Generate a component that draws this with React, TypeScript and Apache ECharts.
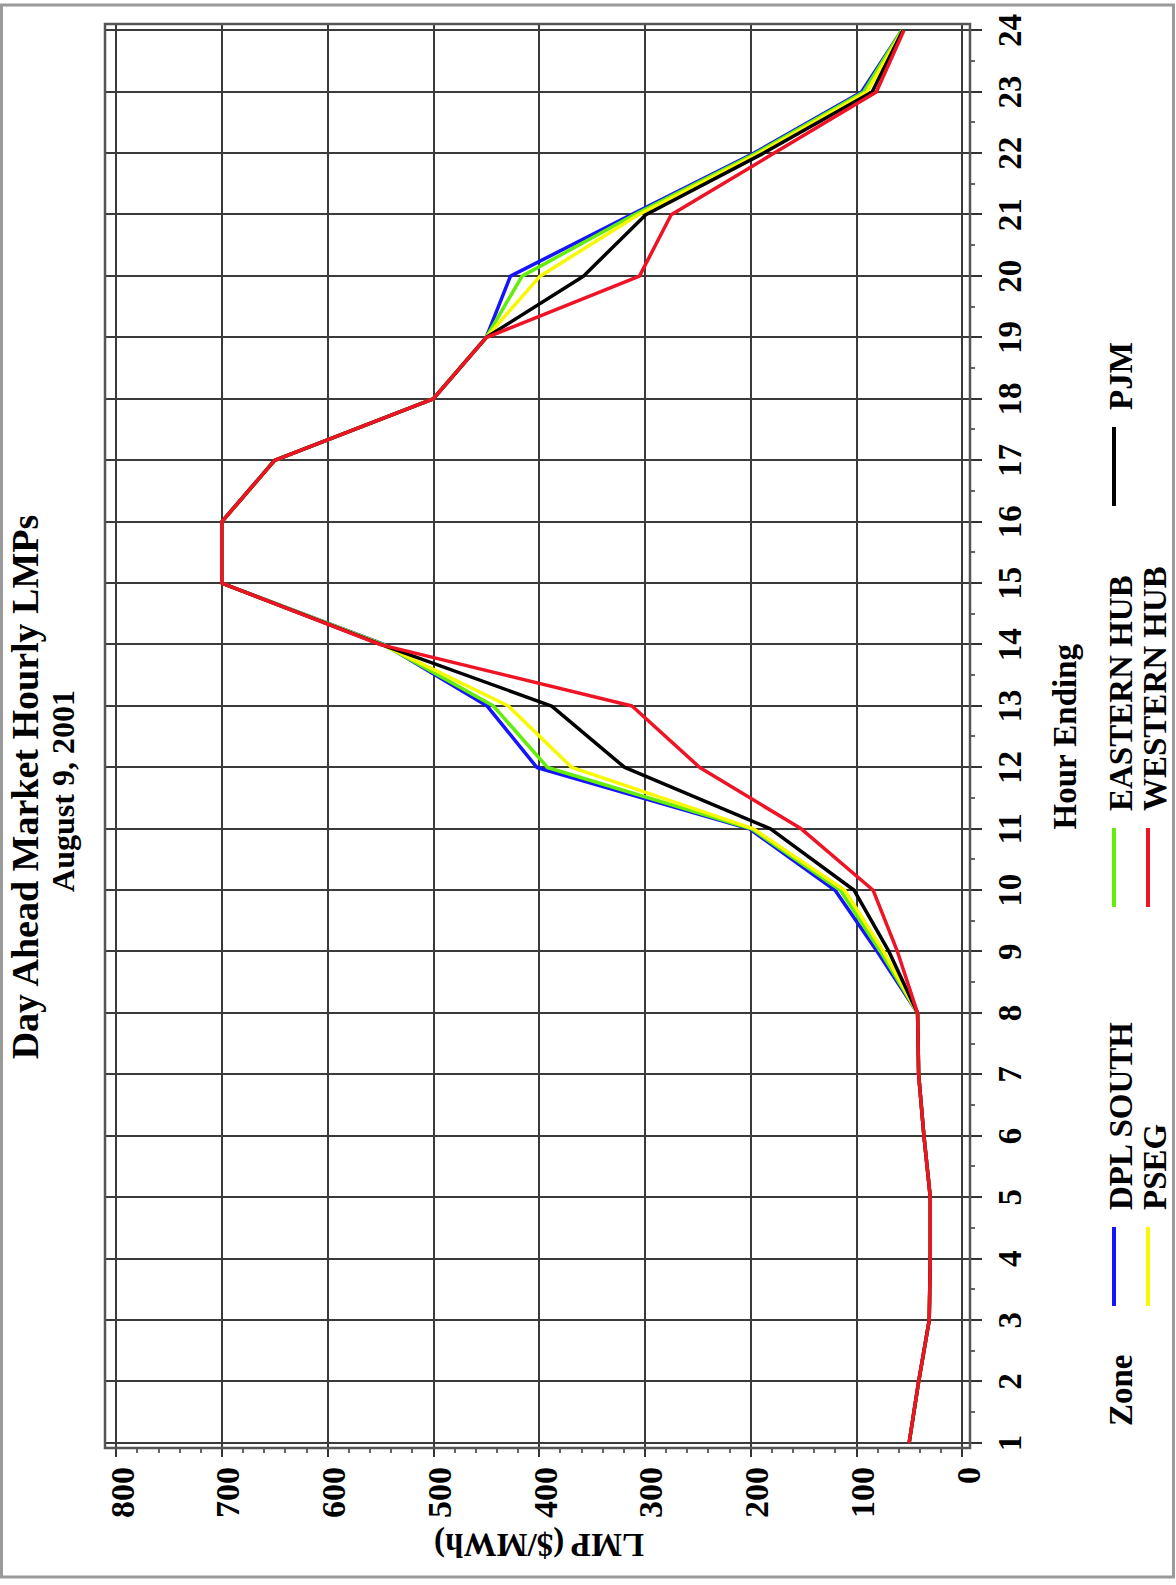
import React, { useEffect, useRef } from "react";
import * as echarts from "echarts";

// ---- data ----
const hours = [1, 2, 3, 4, 5, 6, 7, 8, 9, 10, 11, 12, 13, 14, 15, 16, 17, 18, 19, 20, 21, 22, 23, 24];
const dplSouth = [50, 41, 31, 30, 30, 36, 41, 42, 80, 120, 201, 402, 449, 546, 700, 700, 650, 500, 450, 427, 313, 197, 95, 57];
const easternHub = [50, 41, 31, 30, 30, 36, 41, 42, 77, 115, 199, 392, 443, 547, 700, 700, 650, 500, 450, 416, 310, 195, 93, 57];
const pseg = [50, 41, 31, 30, 30, 36, 41, 42, 74, 111, 197, 369, 429, 548, 700, 700, 650, 500, 450, 399, 306, 192, 90, 56];
const pjm = [50, 41, 31, 30, 30, 36, 41, 42, 69, 102, 181, 319, 388, 549, 700, 700, 650, 500, 450, 358, 299, 188, 85, 56];
const westernHub = [50, 41, 31, 30, 30, 36, 41, 42, 61, 84, 152, 248, 312, 550, 700, 700, 650, 500, 450, 305, 275, 178, 81, 55];

const seriesNames = ["DPL SOUTH", "EASTERN HUB", "PSEG", "PJM", "WESTERN HUB"];
const seriesValues = [dplSouth, easternHub, pseg, pjm, westernHub];
const seriesColors = ["#1414ff", "#62ee08", "#f8f800", "#000000", "#ee1426"];

const titleText = "Day Ahead Market Hourly LMPs";
const subtitleText = "August 9, 2001";
const xName = "Hour Ending";
const yName = "LMP ($/MWh)";
const legendTitle = "Zone";
// legend layout: [series index, column, row]
const legendLayout: [number, number, number][] = [
  [0, 0, 0],
  [2, 0, 1],
  [1, 1, 0],
  [4, 1, 1],
  [3, 2, 0],
];

// ---- layout (the chart is drawn upright, then the whole box is turned a quarter turn) ----
const W = 1585;
const H = 1176;
const FONT = "'Liberation Serif', 'Times New Roman', serif";
const GRID = { left: 142, right: 30.5, top: 116, bottom: 214 };
const FRAME = { x: 137, y: 105, w: 1424, h: 865 };

export default function App() {
  const ref = useRef<HTMLDivElement>(null);

  useEffect(() => {
    if (!ref.current) return;
    const chart = echarts.init(ref.current, null, { renderer: "svg", width: W, height: H });

    const labelStyle = { fontSize: 33, fontFamily: FONT, fontWeight: "bold" as const, color: "#000" };
    const tickLine = { color: "#333", width: 2 };
    const gridLine = { color: "#3a3a3a", width: 2 };

    const legendGraphics: any[] = [];
    const colX = [279, 678, 1079];
    const rowY = [1114, 1148];
    const lineLen = 79;
    legendGraphics.push({
      type: "text",
      style: {
        text: legendTitle, x: 159, y: rowY[0] + 7,
        fontSize: 33, fontFamily: FONT, fontWeight: "bold", fill: "#000",
        align: "left", verticalAlign: "middle", textAlign: "left", textVerticalAlign: "middle",
      },
    });
    legendLayout.forEach(([si, c, r]) => {
      legendGraphics.push({
        type: "line",
        shape: { x1: colX[c], y1: rowY[r], x2: colX[c] + lineLen, y2: rowY[r] },
        style: { stroke: seriesColors[si], lineWidth: 4 },
      });
      legendGraphics.push({
        type: "text",
        style: {
          text: seriesNames[si], x: colX[c] + lineLen + 17, y: rowY[r] + 7,
          fontSize: 33, fontFamily: FONT, fontWeight: "bold", fill: "#000",
          align: "left", verticalAlign: "middle", textAlign: "left", textVerticalAlign: "middle",
        },
      });
    });

    const option: any = {
      animation: false,
      backgroundColor: "#ffffff",
      grid: { ...GRID, containLabel: false },
      xAxis: [
        {
          type: "value", position: "bottom", min: 1, max: 24, interval: 1, offset: 8,
          axisLine: { show: false, onZero: false },
          axisTick: { show: true, length: 12, lineStyle: tickLine },
          minorTick: { show: true, splitNumber: 2, length: 5, lineStyle: { color: "#333", width: 1.5 } },
          splitLine: { show: false },
          axisLabel: { ...labelStyle, margin: 23 },
          name: xName, nameLocation: "middle", nameGap: 78,
          nameTextStyle: { fontSize: 33, fontFamily: FONT, fontWeight: "bold", color: "#000" },
        },
        {
          type: "value", position: "bottom", min: 1, max: 24, interval: 1, offset: 8,
          axisLine: { show: false, onZero: false },
          axisTick: { show: true, inside: true, length: FRAME.h, lineStyle: gridLine },
          splitLine: { show: false },
          axisLabel: { show: false },
        },
      ],
      yAxis: [
        {
          type: "value", position: "left", min: 0, max: 800, interval: 100, offset: 5,
          axisLine: { show: false, onZero: false },
          axisTick: { show: true, length: 9, lineStyle: tickLine },
          minorTick: { show: true, splitNumber: 5, length: 5, lineStyle: { color: "#333", width: 1.5 } },
          splitLine: { show: false },
          axisLabel: { ...labelStyle, fontSize: 34, margin: 19, verticalAlign: "top", lineHeight: 12 },
          name: yName, nameLocation: "middle", nameRotate: 90, nameGap: 80,
          nameTextStyle: { fontSize: 33, fontFamily: FONT, fontWeight: "bold", color: "#000" },
        },
        {
          type: "value", position: "left", min: 0, max: 800, interval: 100, offset: 5,
          axisLine: { show: false, onZero: false },
          axisTick: { show: true, inside: true, length: FRAME.w, lineStyle: gridLine },
          splitLine: { show: false },
          axisLabel: { show: false },
        },
      ],
      graphic: [
        {
          type: "rect",
          shape: { x: 8, y: 1.5, width: W - 13, height: H - 4 },
          style: { fill: "none", stroke: "#9a9a9a", lineWidth: 3 },
          z: 0,
        },
        {
          type: "rect",
          shape: { x: FRAME.x, y: FRAME.y, width: FRAME.w, height: FRAME.h },
          style: { fill: "none", stroke: "#555", lineWidth: 2.5 },
          z: 1,
        },
        {
          type: "text",
          style: {
            text: titleText, x: 798, y: 25,
            fontSize: 38, fontFamily: FONT, fontWeight: "bold", fill: "#000",
            align: "center", verticalAlign: "middle", textAlign: "center", textVerticalAlign: "middle",
          },
        },
        {
          type: "text",
          style: {
            text: subtitleText, x: 794, y: 63,
            fontSize: 32, fontFamily: FONT, fontWeight: "bold", fill: "#000",
            align: "center", verticalAlign: "middle", textAlign: "center", textVerticalAlign: "middle",
          },
        },
        ...legendGraphics,
      ],
      series: seriesNames.map((name, i) => ({
        name,
        type: "line",
        xAxisIndex: 0,
        yAxisIndex: 0,
        symbol: "none",
        lineStyle: { color: seriesColors[i], width: 3.5 },
        itemStyle: { color: seriesColors[i] },
        data: hours.map((h, k) => [h, seriesValues[i][k]]),
        z: 3,
      })),
    };

    chart.setOption(option);
    return () => chart.dispose();
  }, []);

  return (
    <div style={{ position: "absolute", left: 0, top: 0, width: H, height: W, overflow: "hidden", background: "#fff" }}>
      <div
        ref={ref}
        style={{
          position: "absolute", left: 0, top: 0, width: W, height: H,
          transformOrigin: "0 0",
          transform: `translate(0px, ${W}px) rotate(-90deg)`,
        }}
      />
    </div>
  );
}
